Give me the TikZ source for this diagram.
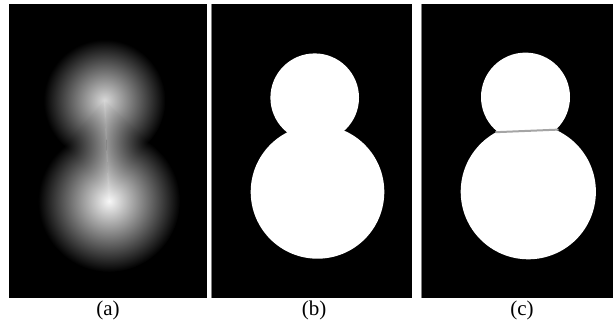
\documentclass[tikz,border=0pt]{standalone}
\usepackage{fontspec}
\setmainfont{Liberation Serif}
\pgfdeclareradialshading{coneA}{\pgfpoint{0bp}{0bp}}{rgb(0bp)=(0.85,0.85,0.85); rgb(25bp)=(0,0,0); rgb(50bp)=(0,0,0)}
\pgfdeclareradialshading{coneB}{\pgfpoint{0bp}{0bp}}{rgb(0bp)=(0.97,0.97,0.97); rgb(25bp)=(0,0,0); rgb(50bp)=(0,0,0)}
\pgfdeclareradialshading{cuspcone}{\pgfpoint{0bp}{0bp}}{rgb(0bp)=(0,0,0); rgb(25bp)=(0.97,0.97,0.97); rgb(50bp)=(0.97,0.97,0.97)}
\definecolor{borderg}{RGB}{128,128,128}
\definecolor{seamg}{RGB}{165,165,165}
\tikzset{
  panel/.style={fill=black},
  blob/.style={fill=white},
  caption/.style={anchor=base, inner sep=0pt, font=\fontsize{21}{25}\selectfont},
  edgeline/.style={borderg, line width=1pt},
  seam/.style={seamg, line width=2pt}
}
\begin{document}
\begin{tikzpicture}[x=1pt,y=-1pt]
\useasboundingbox (0,0) rectangle (613,330);
\fill[white] (0,0) rectangle (613,330);
% panels
\fill[panel] (9,4) rectangle (207,298);
\fill[panel] (211.5,4) rectangle (412.3,298);
\fill[panel] (422,4) rectangle (613,298);
\coordinate (bt) at (211,4); \coordinate (bb) at (211,298);
\coordinate (ct) at (421.5,4); \coordinate (cb) at (421.5,298);
\draw[edgeline] (bt) -- (bb);
\draw[edgeline] (ct) -- (cb);
% (a) distance map
\coordinate (A1) at (104.5,100.5);
\coordinate (A2) at (109,201);
\coordinate (P1) at (148.94,142.29);
\coordinate (P2) at (63.98,146.10);
\shade[shading=coneA] (A1) circle[radius=61];
\shade[shading=coneB] (A2) circle[radius=71];
\begin{scope}
  \clip (A1) -- (P1) -- (A2) -- cycle;
  \shade[shading=cuspcone] (P1) circle[radius=71];
\end{scope}
\begin{scope}
  \clip (A1) -- (P2) -- (A2) -- cycle;
  \shade[shading=cuspcone] (P2) circle[radius=71];
\end{scope}
\draw[white, opacity=0.08, line width=1.2pt] (A1) -- (A2);
% (b) binary shape
\fill[blob] (314.7,97.7) circle[radius=44.3];
\fill[blob] (317.5,191.9) circle[radius=66.8];
% (c) segmented shape
\fill[blob] (525.5,97.1) circle[radius=44.5];
\fill[blob] (528.3,191.7) circle[radius=67.6];
\coordinate (sL) at (495.5,132.2);
\coordinate (sR) at (558.5,129.6);
\draw[seam] (sL) -- (sR);
% captions
\node[caption] (la) at (108,315) {(a)};
\node[caption] (lb) at (314,315) {(b)};
\node[caption] (lc) at (522,315) {(c)};
\end{tikzpicture}
\end{document}
